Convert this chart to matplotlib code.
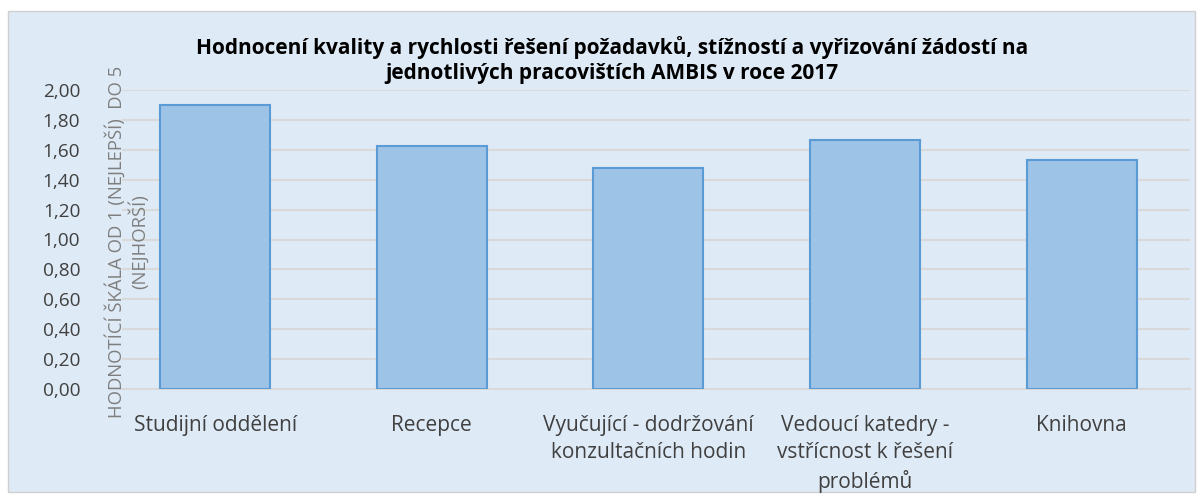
import matplotlib
matplotlib.use("Agg")
import matplotlib.pyplot as plt
from matplotlib.patches import Rectangle

categories = ["Studijní oddělení", "Recepce", "Vyučující - dodržování\nkonzultačních hodin",
              "Vedoucí katedry -\nvstřícnost k řešení\nproblémů", "Knihovna"]
values = [1.90, 1.625, 1.48, 1.665, 1.53]
yticks = [0.0, 0.2, 0.4, 0.6, 0.8, 1.0, 1.2, 1.4, 1.6, 1.8, 2.0]
ytick_labels = ["0,00", "0,20", "0,40", "0,60", "0,80", "1,00", "1,20", "1,40", "1,60", "1,80", "2,00"]
title = "Hodnocení kvality a rychlosti řešení požadavků, stížností a vyřizování žádostí na\njednotlivých pracovištích AMBIS v roce 2017"
ylabel = "HODNOTÍCÍ ŠKÁLA OD 1 (NEJLEPŠÍ)  DO 5\n(NEJHORŠÍ)"

plt.rcParams['font.family'] = ['Open Sans', 'DejaVu Sans']

W, H = 1203, 497
fig = plt.figure(figsize=(W / 100, H / 100), dpi=100)
bg = "#DEEAF6"
fig.patch.set_facecolor("white")
fig.patches.append(Rectangle((8 / W, 1 - 492 / H), (1195 - 8) / W, (492 - 11) / H,
                             transform=fig.transFigure, facecolor=bg, edgecolor="#D0D0D0",
                             linewidth=1.0, zorder=-5))

ax = fig.add_axes([122 / W, 1 - 389 / H, (1190 - 122) / W, (389 - 90) / H])
ax.set_facecolor("none")
x = list(range(len(categories)))
ax.bar(x, values, width=0.508, color="#9DC3E6", edgecolor="#5B9BD5", linewidth=1.5, zorder=3)
ax.set_xlim(-0.43, 4.5)
ax.set_ylim(0, 2.0)
ax.set_yticks(yticks)
ax.set_yticklabels(ytick_labels, fontsize=13.7, color="#404040")
ax.set_xticks(x)
ax.set_xticklabels(categories, fontsize=15, color="#404040", linespacing=1.38, va="top")
ax.tick_params(axis="y", length=0, pad=30)
ax.tick_params(axis="x", length=0, pad=18.5)
ax.yaxis.grid(True, color="#D9D9D9", linewidth=1.5, zorder=0)
ax.set_axisbelow(True)
for s in ["top", "right", "left"]:
    ax.spines[s].set_visible(False)
ax.spines["bottom"].set_color("#D9D9D9")
ax.spines["bottom"].set_linewidth(1.5)

fig.text(612 / W, 1 - 60 / H, title, ha="center", va="center", fontsize=15,
         fontweight="bold", color="black", linespacing=1.2)
fig.text(127 / W, 1 - 242 / H, ylabel, ha="center", va="center", rotation=90,
         fontsize=13.3, color="#7F7F7F", multialignment="center", linespacing=1.1)

fig.savefig("out.png", dpi=100, facecolor=fig.get_facecolor())
